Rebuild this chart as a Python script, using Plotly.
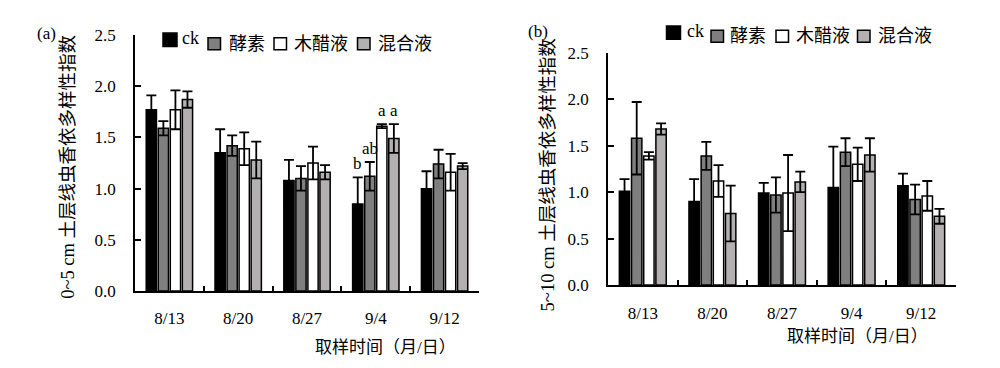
import plotly.graph_objects as go

dates = ["8/13", "8/20", "8/27", "9/4", "9/12"]
series_names = ["ck", "酵素", "木醋液", "混合液"]
colors = ["#000000", "#7f7f7f", "#ffffff", "#b2b0b0"]

# Panel (a): 0-5 cm
a_ck = [1.77, 1.35, 1.08, 0.85, 1.00]
a_ck_err = [0.14, 0.23, 0.20, 0.26, 0.17]
a_jx = [1.59, 1.42, 1.10, 1.12, 1.24]
a_jx_err = [0.07, 0.10, 0.12, 0.14, 0.14]
a_mc = [1.77, 1.39, 1.25, 1.61, 1.16]
a_mc_err = [0.19, 0.16, 0.16, 0.02, 0.18]
a_hh = [1.87, 1.28, 1.16, 1.49, 1.22]
a_hh_err = [0.08, 0.18, 0.07, 0.14, 0.03]
a_letters_date = "9/4"
a_letters = ["b", "ab", "a", "a"]

# Panel (b): 5-10 cm
b_ck = [1.01, 0.90, 0.99, 1.05, 1.07]
b_ck_err = [0.13, 0.24, 0.11, 0.44, 0.13]
b_jx = [1.58, 1.39, 0.97, 1.43, 0.92]
b_jx_err = [0.39, 0.15, 0.19, 0.15, 0.16]
b_mc = [1.39, 1.12, 0.99, 1.30, 0.96]
b_mc_err = [0.04, 0.17, 0.41, 0.18, 0.16]
b_hh = [1.68, 0.77, 1.11, 1.40, 0.74]
b_hh_err = [0.06, 0.30, 0.11, 0.18, 0.08]

x_title = "取样时间（月/日）"
a_ytitle = "0~5 cm 土层线虫香依多样性指数"
b_ytitle = "5~10 cm 土层线虫香依多样性指数"

FONT = "Liberation Serif, Times New Roman, Noto Sans CJK SC"
FS = 17

# legend key layout in page pixels: (square left, square top, size, text x, text y-center)
a_keys = [(155, 17, 14, 172, 22), (200, 22, 12.5, 219, 28),
          (266, 22, 12.5, 284, 28), (349.5, 22, 12.5, 368, 28)]
b_keys = [(658.5, 9.5, 14, 677, 15), (703, 14, 12.5, 720, 20),
          (768, 14, 12.5, 785.5, 20), (849.5, 14, 12.5, 867.5, 20)]

fig = go.Figure()

a_vals = [a_ck, a_jx, a_mc, a_hh]
a_errs = [a_ck_err, a_jx_err, a_mc_err, a_hh_err]
b_vals = [b_ck, b_jx, b_mc, b_hh]
b_errs = [b_ck_err, b_jx_err, b_mc_err, b_hh_err]

for i, name in enumerate(series_names):
    fig.add_trace(go.Bar(
        x=dates, y=a_vals[i], name=name, xaxis="x", yaxis="y",
        marker=dict(color=colors[i], line=dict(color="black", width=1.5)),
        error_y=dict(type="data", array=a_errs[i], color="black", thickness=1.8, width=5),
        offsetgroup=str(i), showlegend=False,
    ))
for i, name in enumerate(series_names):
    fig.add_trace(go.Bar(
        x=dates, y=b_vals[i], name=name, xaxis="x2", yaxis="y2",
        marker=dict(color=colors[i], line=dict(color="black", width=1.5)),
        error_y=dict(type="data", array=b_errs[i], color="black", thickness=1.8, width=5),
        offsetgroup=str(i), showlegend=False,
    ))

axis_common = dict(showline=True, linecolor="black", showgrid=False, zeroline=False,
                   tickfont=dict(family=FONT, size=FS, color="black"))
xcommon = dict(linewidth=2, ticks="inside", tickson="boundaries", ticklen=5,
               tickwidth=1.5, tickcolor="black", ticklabelstandoff=11, **axis_common)
ycommon = dict(range=[0, 2.5], dtick=0.5, tickformat=".1f", linewidth=1.5,
               ticks="inside", ticklen=6, tickwidth=1.5, tickcolor="black",
               ticklabelstandoff=14, **axis_common)

fig.update_layout(
    width=1000, height=368,
    margin=dict(l=0, r=0, t=0, b=0),
    paper_bgcolor="white", plot_bgcolor="white",
    barmode="group", bargap=0.3, bargroupgap=0.15,
    font=dict(family=FONT, size=FS, color="black"),
    xaxis=dict(domain=[0.127, 0.471], anchor="y", **xcommon),
    yaxis=dict(domain=[0.2147, 0.9484], anchor="x", **ycommon),
    xaxis2=dict(domain=[0.600, 0.948], anchor="y2", **xcommon),
    yaxis2=dict(domain=[0.2318, 0.8976], anchor="x2", **ycommon),
    showlegend=False,
)

def txt(text, x, y, angle=0, size=FS, xanchor="center"):
    return dict(text=text, x=x / 1000, y=1 - y / 368, xref="paper", yref="paper",
                showarrow=False, xanchor=xanchor, yanchor="middle", textangle=angle,
                font=dict(family=FONT, size=size, color="black"))

annotations = [
    txt("(a)", 38, 17),
    txt("(b)", 530, 15),
    txt(x_title, 377, 348),
    txt(x_title, 849, 337),
    txt(a_ytitle, 60, 158, -90, size=18.5),
    txt(b_ytitle, 540, 167, -90, size=18.5),
]
shapes = []
# legend keys (manual, to match the compact reference legend)
for keys in (a_keys, b_keys):
    for i, name in enumerate(series_names):
        sx, sy, sz, tx, ty = keys[i]
        shapes.append(dict(type="rect", xref="paper", yref="paper",
                           x0=sx / 1000, x1=(sx + sz) / 1000,
                           y0=1 - (sy + sz) / 368, y1=1 - sy / 368,
                           fillcolor=colors[i], line=dict(color="black", width=1.5)))
        annotations.append(txt(name, tx, ty, size=18, xanchor="left"))

# significance letters above the 9/4 bars of panel (a)
idx = dates.index(a_letters_date)
slot_px = 68.8 * 0.7 / 4
for i, letter in enumerate(a_letters):
    annotations.append(dict(
        text=letter, x=a_letters_date, y=a_vals[i][idx] + a_errs[i][idx],
        xref="x", yref="y", showarrow=False, yanchor="bottom", xanchor="center",
        xshift=(i - 1.5) * slot_px, yshift=2,
        font=dict(family=FONT, size=FS, color="black")))

fig.update_layout(annotations=annotations, shapes=shapes)
fig.write_html("out.html")
